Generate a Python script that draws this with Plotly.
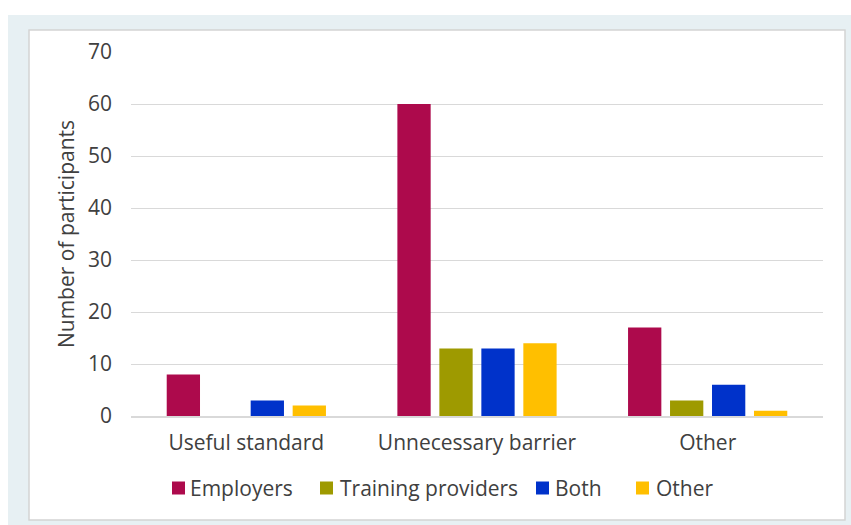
import plotly.graph_objects as go

categories = ["Useful standard", "Unnecessary barrier", "Other"]
series_names = ["Employers", "Training providers", "Both", "Other"]
employers = [8, 60, 17]
training_providers = [0, 13, 3]
both = [3, 13, 6]
other = [2, 14, 1]
y_ticks = [0, 10, 20, 30, 40, 50, 60, 70]

colors = ["#AD0A4C", "#9E9A00", "#0032CA", "#FFBF00"]
values = [employers, training_providers, both, other]

FONT = "Open Sans, Lato, sans-serif"
TXT = "#404040"
FS = 21

# body margin removed via post_script, so figure pixels == screen pixels
FW, FH = 851, 525
L, R, T, B = 131, 823, 52, 416
W, H = R - L, B - T


def px(x):
    return (x - L) / W


def py(y):
    return (B - y) / H


fig = go.Figure()
for name, vals, col in zip(series_names, values, colors):
    fig.add_trace(go.Bar(x=categories, y=vals, name=name, showlegend=False,
                         marker=dict(color=col, line=dict(width=0))))

shapes = [
    dict(type="rect", xref="paper", yref="paper", x0=px(8), x1=px(860), y0=py(535), y1=py(15),
         fillcolor="#E7F0F3", line=dict(width=0), layer="below"),
    dict(type="rect", xref="paper", yref="paper", x0=px(29), x1=px(845), y0=py(520), y1=py(30),
         fillcolor="white", line=dict(color="#D4D4D4", width=1.5), layer="below"),
]
annotations = []

# custom legend (layout positions in reference pixels)
legend_marker_x = [172, 320, 536, 636]
legend_text_x = [188, 338, 553, 654]
legend_y = 488
for name, col, mx, tx in zip(series_names, colors, legend_marker_x, legend_text_x):
    shapes.append(dict(type="rect", xref="paper", yref="paper",
                       x0=px(mx), x1=px(mx + 13), y0=py(legend_y + 6.5), y1=py(legend_y - 6.5),
                       fillcolor=col, line=dict(width=0)))
    annotations.append(dict(xref="paper", yref="paper", x=px(tx), y=py(legend_y), text=name,
                            showarrow=False, xanchor="left", yanchor="middle",
                            font=dict(family=FONT, size=FS, color=TXT)))

fig.update_layout(
    width=FW, height=FH,
    margin=dict(l=L, r=FW - R, t=T, b=FH - B),
    paper_bgcolor="white",
    plot_bgcolor="rgba(0,0,0,0)",
    barmode="group",
    bargap=0.272,
    bargroupgap=0.207,
    font=dict(family=FONT, size=FS, color=TXT),
    shapes=shapes,
    annotations=annotations,
)
fig.update_xaxes(showgrid=False, showline=True, linecolor="#D9D9D9", linewidth=1.5,
                 ticks="", tickfont=dict(size=FS, color=TXT), ticklabelstandoff=7)
fig.update_yaxes(range=[0, 70], tickvals=y_ticks, showgrid=True, gridcolor="#D9D9D9", gridwidth=1.2,
                 zeroline=False, showline=False, ticks="", tickfont=dict(size=FS, color=TXT),
                 ticklabelstandoff=18,
                 title=dict(text="Number of participants", font=dict(size=FS, color=TXT), standoff=7))

fig.write_html("out.html",
               config={"displayModeBar": False},
               post_script="document.body.style.margin='0px';document.body.style.overflow='hidden';")
